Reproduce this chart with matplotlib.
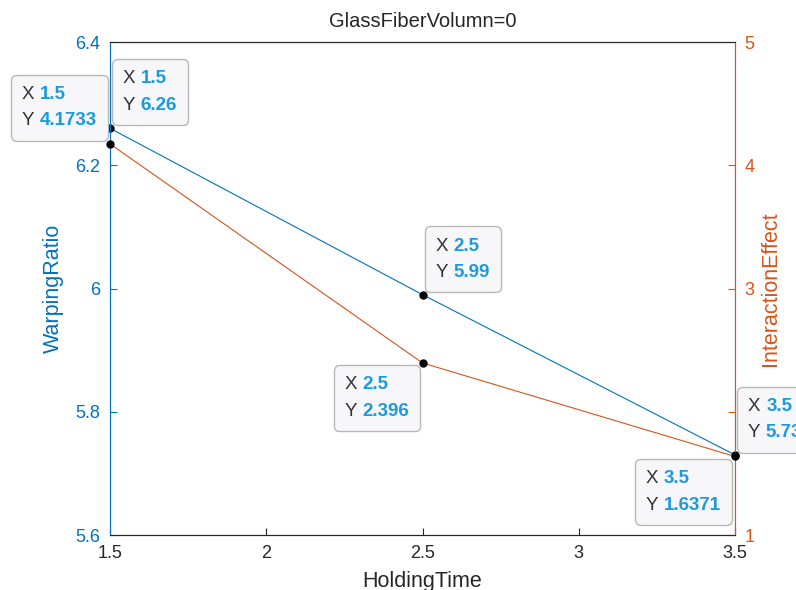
import matplotlib
matplotlib.use('Agg')
import matplotlib.pyplot as plt
from matplotlib.offsetbox import TextArea, HPacker, VPacker, AnnotationBbox
from matplotlib.ticker import FuncFormatter

plt.rcParams['font.family'] = ['Liberation Sans', 'DejaVu Sans']

# data
holdingTime = [1.5, 2.5, 3.5]
warpingRatio = [6.26, 5.99, 5.73]
interactionEffect = [4.1733, 2.396, 1.6371]
xLabels = ['1.5', '2.5', '3.5']
warpingLabels = ['6.26', '5.99', '5.73']
interactionLabels = ['4.1733', '2.396', '1.6371']
xTicks = [1.5, 2, 2.5, 3, 3.5]
leftTicks = [5.6, 5.8, 6, 6.2, 6.4]
rightTicks = [1, 2, 3, 4, 5]

blue = '#0072BD'
orange = '#D95319'
tipBlue = '#1a9be0'
gray = '#262626'

fig = plt.figure(figsize=(7.96, 5.90), dpi=100)
ax = fig.add_axes([0.1382, 0.0932, 0.7852, 0.8356])
ax2 = ax.twinx()

ax.plot(holdingTime, warpingRatio, color=blue, lw=0.8)
ax2.plot(holdingTime, interactionEffect, color=orange, lw=0.8)
ax.plot(holdingTime, warpingRatio, 'o', color='black', ms=5, zorder=5, clip_on=False)
ax2.plot(holdingTime, interactionEffect, 'o', color='black', ms=5, zorder=5, clip_on=False)

ax.set_xlim(1.5, 3.5)
ax.set_ylim(5.6, 6.4)
ax2.set_ylim(1, 5)
ax.set_xticks(xTicks)
ax.set_yticks(leftTicks)
ax2.set_yticks(rightTicks)
fmt = FuncFormatter(lambda v, p: '%g' % v)
ax.xaxis.set_major_formatter(fmt)
ax.yaxis.set_major_formatter(fmt)
ax2.yaxis.set_major_formatter(fmt)

ax.tick_params(axis='x', direction='in', colors=gray, labelsize=13, length=5, pad=7)
ax.tick_params(axis='y', direction='in', colors=blue, labelsize=13, length=5, pad=7)
ax2.tick_params(axis='y', direction='in', colors=orange, labelsize=13, length=5, pad=7)

for a in (ax, ax2):
    a.spines['left'].set_color(blue)
    a.spines['right'].set_color(orange)
    a.spines['bottom'].set_color(gray)
    a.spines['top'].set_color(gray)
    for s in a.spines.values():
        s.set_linewidth(0.8)

ax.set_xlabel('HoldingTime', fontsize=15.5, color=gray, labelpad=7)
ax.set_ylabel('WarpingRatio', fontsize=15.5, color=blue, labelpad=8)
ax2.set_ylabel('InteractionEffect', fontsize=15.5, color=orange, labelpad=4)
ax.set_title('GlassFiberVolumn=0', fontsize=14.5, color=gray, pad=11)


def datatip(trans, x, y, xs, ys, off, align):
    def row(k, v):
        return HPacker(children=[
            TextArea(k + ' ', textprops=dict(color='#333333', fontsize=13.5)),
            TextArea(v, textprops=dict(color=tipBlue, fontsize=13.5, fontweight='bold'))],
            align='baseline', pad=0, sep=0)
    box = VPacker(children=[row('X', xs), row('Y', ys)], align='left', pad=7.5, sep=7)
    ab = AnnotationBbox(box, (x, y), xybox=off, xycoords=trans, boxcoords='offset pixels',
                        box_alignment=align, frameon=True, annotation_clip=False,
                        bboxprops=dict(boxstyle='round,pad=0.05,rounding_size=0.4',
                                       fc='#f7f7f9', ec='#b8b8b8', lw=1.0))
    ab.set_zorder(10)
    ax2.add_artist(ab)


datatip(ax.transData, holdingTime[0], warpingRatio[0], xLabels[0], warpingLabels[0], (3, 4), (0, 0))
datatip(ax2.transData, holdingTime[0], interactionEffect[0], xLabels[0], interactionLabels[0], (-3, 4), (1, 0))
datatip(ax.transData, holdingTime[1], warpingRatio[1], xLabels[1], warpingLabels[1], (3, 3), (0, 0))
datatip(ax2.transData, holdingTime[1], interactionEffect[1], xLabels[1], interactionLabels[1], (-3, -3), (1, 1))
datatip(ax.transData, holdingTime[2], warpingRatio[2], xLabels[2], warpingLabels[2], (3, 3), (0, 0))
datatip(ax2.transData, holdingTime[2], interactionEffect[2], xLabels[2], interactionLabels[2], (-4, -3), (1, 1))

fig.savefig('out.png', dpi=100)
